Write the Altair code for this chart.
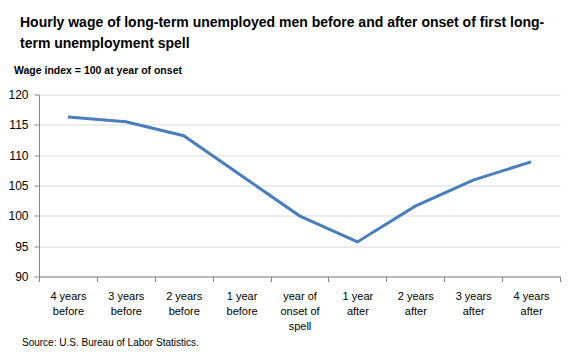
import altair as alt
import pandas as pd

categories = ["4 years|before", "3 years|before", "2 years|before", "1 year|before",
              "year of|onset of|spell", "1 year|after", "2 years|after", "3 years|after", "4 years|after"]
values = [116.3, 115.5, 113.2, 106.6, 100.0, 95.7, 101.6, 105.9, 108.9]

title_lines = ["Hourly wage of long-term unemployed men before and after onset of first long-",
               "term unemployment spell"]
subtitle = "Wage index = 100 at year of onset"
source = "Source: U.S. Bureau of Labor Statistics."

df = pd.DataFrame({"period": categories, "wage": values})

FONT = "Liberation Sans"

line = alt.Chart(df).mark_line(color="#4a7ebb", strokeWidth=3).encode(
    x=alt.X("period:N", sort=categories, title=None,
            scale=alt.Scale(paddingInner=0, paddingOuter=0),
            axis=alt.Axis(labelExpr="datum.value ? split(datum.value, '|') : ''", labelAngle=0,
                          tickBand="extent", domainColor="#868686", tickColor="#868686",
                          tickSize=5, labelFont=FONT, labelFontSize=11, labelColor="#000000",
                          labelPadding=9, labelLineHeight=15, grid=False)),
    y=alt.Y("wage:Q", title=None,
            scale=alt.Scale(domain=[90, 120], zero=False, nice=False),
            axis=alt.Axis(values=[90, 95, 100, 105, 110, 115, 120], gridColor="#d9d9d9",
                          domainColor="#868686", tickColor="#868686", tickSize=5,
                          labelFont=FONT, labelFontSize=12, labelColor="#000000", labelPadding=6)),
)

title = alt.Chart(pd.DataFrame({"t": [title_lines]})).mark_text(
    align="left", baseline="alphabetic", font=FONT, fontSize=14, fontWeight="bold",
    lineHeight=21, color="#000000"
).encode(text="t", x=alt.value(-19), y=alt.value(-67.5))

sub = alt.Chart(pd.DataFrame({"t": [subtitle]})).mark_text(
    align="left", baseline="alphabetic", font=FONT, fontSize=10.5, fontWeight="bold",
    color="#000000"
).encode(text="t", x=alt.value(-25), y=alt.value(-21))

src = alt.Chart(pd.DataFrame({"t": [source]})).mark_text(
    align="left", baseline="alphabetic", font=FONT, fontSize=10, color="#000000"
).encode(text="t", x=alt.value(-17), y=alt.value(251))

chart = alt.layer(line, title, sub, src).properties(
    width=521, height=182,
    autosize=alt.AutoSizeParams(type="none"),
    padding={"left": 31, "top": 86.5, "right": 12, "bottom": 75},
).configure_view(stroke=None)

chart.save("out.html", embed_options={"renderer": "svg", "actions": False})
